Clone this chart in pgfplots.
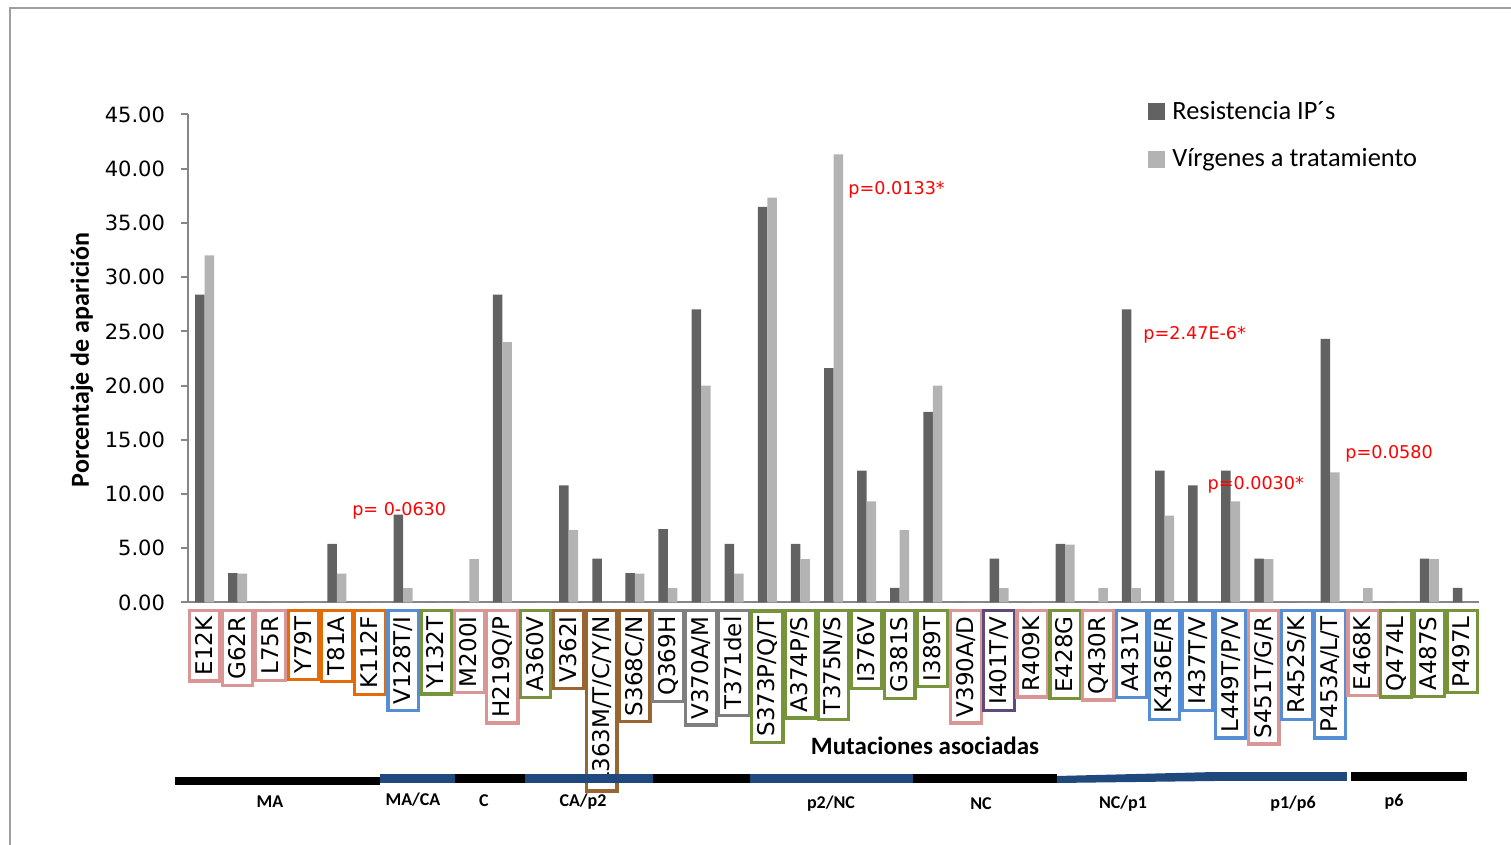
\documentclass[border=0pt]{standalone}
\usepackage{pgfplots}
\pgfplotsset{compat=1.18}
\usepackage{fontspec}
\setmainfont{Carlito}
\newfontfamily\dejavu{DejaVu Sans}
\definecolor{darkbar}{HTML}{626262}
\definecolor{lightbar}{HTML}{B3B3B3}
\definecolor{axgray}{HTML}{868686}
\definecolor{pk}{HTML}{D99694}
\definecolor{orc}{HTML}{E36C09}
\definecolor{blc}{HTML}{558ED5}
\definecolor{grc}{HTML}{77933C}
\definecolor{brc}{HTML}{996633}
\definecolor{gyc}{HTML}{7F7F7F}
\definecolor{puc}{HTML}{604A7B}
\definecolor{regblue}{HTML}{1F497D}
\newcommand{\lb}[2]{\setlength{\fboxrule}{1.6pt}\setlength{\fboxsep}{2pt}\fcolorbox{#1}{white}{\vphantom{/}#2}}

\pgfplotstableread{
x y
1 28.38
2 2.70
3 0
4 0
5 5.41
6 0
7 8.11
8 0
9 0
10 28.38
11 0
12 10.81
13 4.05
14 2.70
15 6.76
16 27.03
17 5.41
18 36.49
19 5.41
20 21.62
21 12.16
22 1.35
23 17.57
24 0
25 4.05
26 0
27 5.41
28 0
29 27.03
30 12.16
31 10.81
32 12.16
33 4.05
34 0
35 24.32
36 0
37 0
38 4.05
39 1.35
}\resist

\pgfplotstableread{
x y
1 32.00
2 2.67
3 0
4 0
5 2.67
6 0
7 1.33
8 0
9 4.00
10 24.00
11 0
12 6.67
13 0
14 2.67
15 1.33
16 20.00
17 2.67
18 37.33
19 4.00
20 41.33
21 9.33
22 6.67
23 20.00
24 0
25 1.33
26 0
27 5.33
28 1.33
29 1.33
30 8.00
31 0
32 9.33
33 4.00
34 0
35 12.00
36 1.33
37 0
38 4.00
39 0
}\virgen

\begin{document}
\begin{tikzpicture}
\useasboundingbox (-94pt,-121.25pt) rectangle (661.5pt,301.25pt);
\draw[gray!75, line width=0.75pt] (-89pt,-121.25pt) -- (-89pt,297.25pt) -- (661.5pt,297.25pt);
\begin{axis}[
  scale only axis,
  width=645.5pt, height=244pt,
  at={(0,0)}, anchor=south west,
  ybar=0pt, bar width=4.75pt,
  xmin=0.5, xmax=39.5, ymin=0, ymax=45,
  axis x line*=bottom, axis y line*=left,
  axis line style={axgray, line width=1pt},
  ytick={0,5,...,45},
  yticklabel style={xshift=-4.5pt, font=\dejavu\fontsize{10.5}{12}\selectfont, /pgf/number format/fixed, /pgf/number format/fixed zerofill, /pgf/number format/precision=2, /pgf/number format/assume math mode=true},
  tick align=outside, major tick length=3.5pt,
  ytick style={axgray, line width=1pt},
  xtick={1,...,39},
  xtick style={draw=none},
  xticklabels={{\lb{pk}{E12K}},{\lb{pk}{G62R}},{\lb{pk}{L75R}},{\lb{orc}{Y79T}},{\lb{orc}{T81A}},{\lb{orc}{K112F}},{\lb{blc}{V128T/I}},{\lb{grc}{Y132T}},{\lb{pk}{M200I}},{\lb{pk}{H219Q/P}},{\lb{grc}{A360V}},{\lb{brc}{V362I}},{\lb{brc}{L363M/T/C/Y/N}},{\lb{brc}{S368C/N}},{\lb{gyc}{Q369H}},{\lb{gyc}{V370A/M}},{\lb{gyc}{T371del}},{\lb{grc}{S373P/Q/T}},{\lb{grc}{A374P/S}},{\lb{grc}{T375N/S}},{\lb{grc}{I376V}},{\lb{grc}{G381S}},{\lb{grc}{I389T}},{\lb{pk}{V390A/D}},{\lb{puc}{I401T/V}},{\lb{pk}{R409K}},{\lb{grc}{E428G}},{\lb{pk}{Q430R}},{\lb{blc}{A431V}},{\lb{blc}{K436E/R}},{\lb{blc}{I437T/V}},{\lb{blc}{L449T/P/V}},{\lb{pk}{S451T/G/R}},{\lb{blc}{R452S/K}},{\lb{blc}{P453A/L/T}},{\lb{pk}{E468K}},{\lb{grc}{Q474L}},{\lb{grc}{A487S}},{\lb{grc}{P497L}}},
  xticklabel style={yshift=0.3pt, rotate=90, anchor=east, inner sep=0pt, font=\dejavu\fontsize{11.5}{12}\selectfont},
  clip=false,
  legend style={at={(axis description cs:0.7436,1.036)}, anchor=north west, draw=none, fill=none, inner sep=0pt,
    font=\fontsize{13.2}{15}\selectfont, row sep=9pt},
  legend cell align=left,
]
\addplot[fill=darkbar, draw=none, legend image code/.code={\fill[darkbar] (0pt,-4.25pt) rectangle (8.5pt,4.25pt);}] table[x=x,y=y] {\resist};
\addplot[fill=lightbar, draw=none, legend image code/.code={\fill[lightbar] (0pt,-4.25pt) rectangle (8.5pt,4.25pt);}] table[x=x,y=y] {\virgen};
\legend{\hspace{1.5pt}Resistencia IP´s, \hspace{1.5pt}Vírgenes a tratamiento}
\begin{scope}[every node/.style={anchor=west, inner sep=0pt, text=red, font=\dejavu\fontsize{8.8}{10}\selectfont}]
\node at (axis cs:5.45,8.43) {p= 0-0630};
\node at (axis cs:20.44,38.1) {p=0.0133*};
\node at (axis cs:29.35,24.65) {p=2.47E-6*};
\node at (axis cs:31.29,10.83) {p=0.0030*};
\node at (axis cs:35.45,13.69) {p=0.0580};
\end{scope}
\end{axis}
\node[rotate=90, font=\bfseries\fontsize{13}{15}\selectfont] at (-53pt,121.25pt) {Porcentaje de aparición};
\node[font=\bfseries\fontsize{12.5}{15}\selectfont] at (368.5pt,-71.75pt) {Mutaciones asociadas};
% region bars
\fill[black] (-6.5pt,-91.25pt) rectangle (96pt,-87.25pt);
\fill[regblue] (96pt,-90.25pt) rectangle (133.5pt,-85.75pt);
\fill[black] (133.5pt,-90.25pt) rectangle (168.5pt,-85.75pt);
\fill[regblue] (168.5pt,-90.25pt) rectangle (232.5pt,-85.75pt);
\fill[black] (232.5pt,-90.25pt) rectangle (281pt,-85.75pt);
\fill[regblue] (281pt,-90.25pt) rectangle (362.5pt,-85.75pt);
\fill[black] (362.5pt,-90.25pt) rectangle (434.5pt,-85.75pt);
\fill[regblue] (434.5pt,-90.25pt) -- (513.5pt,-89.25pt) -- (513.5pt,-84.75pt) -- (434.5pt,-86.75pt) -- cycle;
\fill[regblue] (513.5pt,-89.25pt) rectangle (579.5pt,-84.75pt);
\fill[black] (581.5pt,-89.25pt) rectangle (639.5pt,-84.75pt);
\begin{scope}[every node/.style={font=\bfseries\fontsize{9}{10}\selectfont}]
\node at (41pt,-99.75pt) {MA};
\node at (112.5pt,-98.75pt) {MA/CA};
\node at (148pt,-99.25pt) {C};
\node at (197.5pt,-99.75pt) {CA/p2};
\node at (321.5pt,-100.75pt) {p2/NC};
\node at (396.5pt,-100.75pt) {NC};
\node at (467.5pt,-100.75pt) {NC/p1};
\node at (552.5pt,-100.75pt) {p1/p6};
\node at (603pt,-99.75pt) {p6};
\end{scope}
\end{tikzpicture}
\end{document}
